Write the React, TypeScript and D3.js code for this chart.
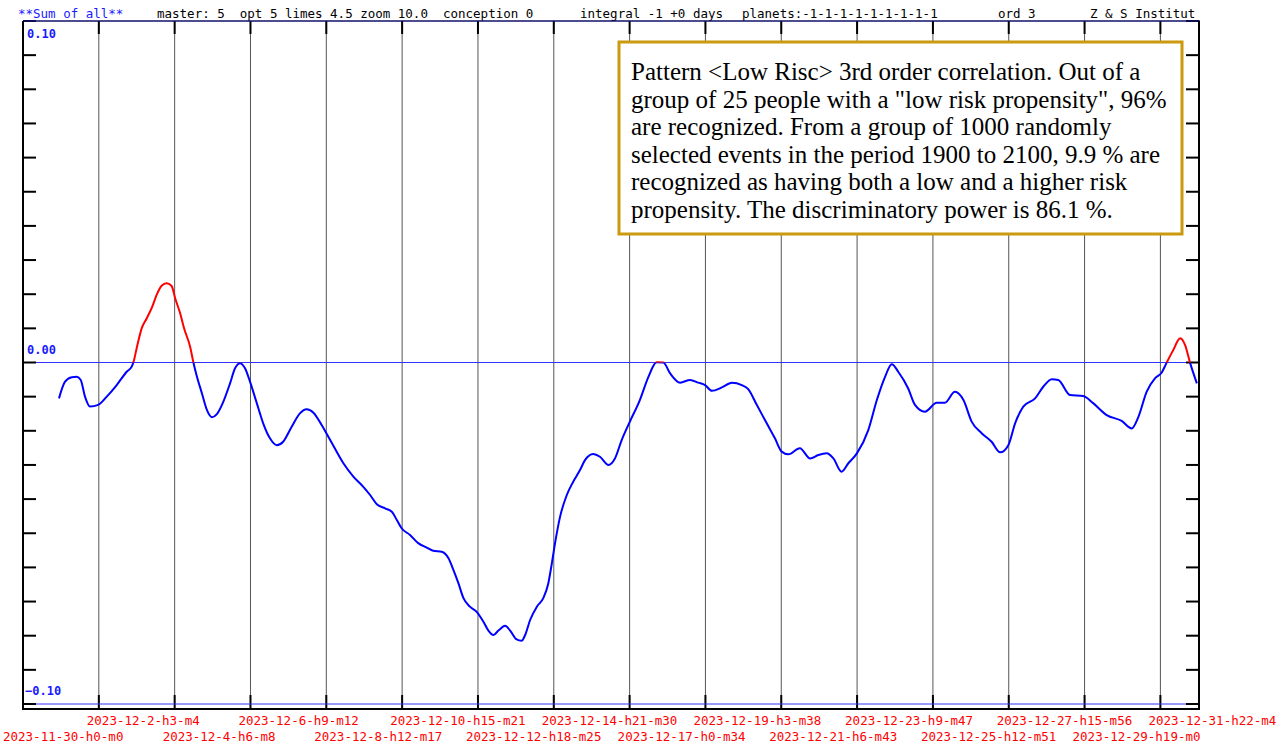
import React, { useEffect, useRef } from 'react';
import * as d3 from 'd3';

const W = 1286;
const H = 745;

// header strings across the top
const headerTexts = [
  '**Sum of all**',
  'master: 5  opt 5 limes 4.5 zoom 10.0  conception 0',
  'integral -1 +0 days',
  'planets:-1-1-1-1-1-1-1-1-1',
  'ord 3',
  'Z & S Institut',
];
const headerColors = ['#1a1aff', '#000', '#000', '#000', '#000', '#000'];
const headerX = [18, 157, 580, 742, 998, 1090];

// x tick labels, one every 2d 3h 4m starting 2023-11-30 00:00
const tickLabels = [
  '2023-11-30-h0-m0', '2023-12-2-h3-m4', '2023-12-4-h6-m8', '2023-12-6-h9-m12',
  '2023-12-8-h12-m17', '2023-12-10-h15-m21', '2023-12-12-h18-m25', '2023-12-14-h21-m30',
  '2023-12-17-h0-m34', '2023-12-19-h3-m38', '2023-12-21-h6-m43', '2023-12-23-h9-m47',
  '2023-12-25-h12-m51', '2023-12-27-h15-m56', '2023-12-29-h19-m0', '2023-12-31-h22-m4',
];
const tickStepDays = 3064 / 1440;
const dayDomain = [0, 33];

const yTickValues = d3.range(-10, 11).map(i => i / 100);
const yLabelValues = [0.1, 0, -0.1];

// days since 2023-11-30 00:00
const curveDays = [
  1.01, 1.18, 1.37, 1.51, 1.62, 1.74, 1.88, 2.11, 2.35, 2.63,
  2.91, 3.05, 3.10, 3.19, 3.33, 3.47, 3.61, 3.75, 3.89, 4.03,
  4.17, 4.27, 4.41, 4.52, 4.69, 4.78, 4.87, 5.02, 5.16, 5.30,
  5.44, 5.62, 5.81, 5.95, 6.09, 6.23, 6.37, 6.56, 6.74, 6.93,
  7.12, 7.30, 7.54, 7.77, 7.96, 8.15, 8.38, 8.62, 8.99, 9.27,
  9.55, 9.74, 9.93, 10.16, 10.35, 10.49, 10.63, 10.86, 11.09, 11.33,
  11.51, 11.75, 11.94, 12.08, 12.22, 12.36, 12.54, 12.73, 12.92, 13.06,
  13.20, 13.34, 13.53, 13.67, 13.85, 13.99, 14.09, 14.23, 14.42, 14.60,
  14.74, 14.84, 14.93, 15.07, 15.26, 15.44, 15.63, 15.77, 16.00, 16.19,
  16.43, 16.61, 16.80, 17.03, 17.31, 17.55, 17.78, 17.97, 18.16, 18.44,
  18.72, 18.95, 19.14, 19.33, 19.61, 19.89, 20.17, 20.35, 20.59, 20.87,
  21.10, 21.29, 21.48, 21.80, 22.09, 22.32, 22.55, 22.74, 22.97, 23.16,
  23.40, 23.72, 23.96, 24.19, 24.38, 24.56, 24.84, 25.03, 25.31, 25.64,
  25.87, 26.15, 26.39, 26.62, 26.90, 27.18, 27.42, 27.65, 27.84, 28.07,
  28.40, 28.63, 28.87, 29.05, 29.38, 29.75, 30.03, 30.41, 30.83, 31.11,
  31.30, 31.53, 31.77, 31.95, 32.09, 32.28, 32.47, 32.61, 32.75, 32.94,
];
const curveValues = [
  -0.0105, -0.0056, -0.0043, -0.0042, -0.0051, -0.0100, -0.0129, -0.0124, -0.0100, -0.0066,
  -0.0027, -0.0012, 0.0001, 0.0042, 0.0100, 0.0129, 0.0159, 0.0198, 0.0225, 0.0232,
  0.0224, 0.0188, 0.0144, 0.0100, 0.0046, 0.0001, -0.0037, -0.0090, -0.0139, -0.0160,
  -0.0151, -0.0115, -0.0061, -0.0017, -0.0002, -0.0017, -0.0056, -0.0119, -0.0178, -0.0222,
  -0.0242, -0.0232, -0.0188, -0.0149, -0.0137, -0.0147, -0.0183, -0.0227, -0.0295, -0.0334,
  -0.0364, -0.0388, -0.0415, -0.0427, -0.0437, -0.0461, -0.0486, -0.0505, -0.0529, -0.0542,
  -0.0551, -0.0554, -0.0573, -0.0608, -0.0647, -0.0690, -0.0715, -0.0730, -0.0759, -0.0785,
  -0.0798, -0.0785, -0.0771, -0.0785, -0.0811, -0.0815, -0.0798, -0.0754, -0.0715, -0.0690,
  -0.0647, -0.0588, -0.0529, -0.0452, -0.0388, -0.0349, -0.0315, -0.0286, -0.0268, -0.0276,
  -0.0300, -0.0281, -0.0227, -0.0173, -0.0110, -0.0042, 0.0001, 0.0000, -0.0032, -0.0059,
  -0.0051, -0.0059, -0.0066, -0.0083, -0.0073, -0.0059, -0.0066, -0.0078, -0.0124, -0.0178,
  -0.0222, -0.0261, -0.0269, -0.0251, -0.0281, -0.0271, -0.0266, -0.0281, -0.0320, -0.0295,
  -0.0266, -0.0198, -0.0110, -0.0042, -0.0005, -0.0027, -0.0076, -0.0124, -0.0144, -0.0118,
  -0.0118, -0.0086, -0.0110, -0.0173, -0.0207, -0.0232, -0.0263, -0.0242, -0.0178, -0.0129,
  -0.0105, -0.0071, -0.0049, -0.0051, -0.0095, -0.0098, -0.0119, -0.0154, -0.0171, -0.0193,
  -0.0159, -0.0086, -0.0046, -0.0030, -0.0001, 0.0037, 0.0071, 0.0051, -0.0001, -0.0061,
];

const noteLines = [
  'Pattern <Low Risc> 3rd order correlation. Out of a',
  'group of 25 people with a "low risk propensity", 96%',
  'are recognized. From a group of 1000 randomly',
  'selected events in the period 1900 to 2100, 9.9 % are',
  'recognized as having both a low and a higher risk',
  'propensity. The discriminatory power is 86.1 %.',
];

const mono = '"DejaVu Sans Mono", monospace';

export default function App() {
  const ref = useRef<SVGSVGElement | null>(null);

  useEffect(() => {
    const svg = d3.select(ref.current);
    svg.selectAll('*').remove();

    const left = 23, right = 1199, top = 21, zeroBottom = 704, frameBottom = 709;

    const x = d3.scaleLinear().domain(dayDomain).range([left, right]);
    const y = d3.scaleLinear().domain([-0.1, 0.1]).range([zeroBottom, top]);

    svg.append('rect').attr('width', W).attr('height', H).attr('fill', '#fff');

    // header
    svg.append('g').selectAll('text')
      .data(headerTexts)
      .enter()
      .append('text')
      .attr('x', (d, i) => headerX[i])
      .attr('y', 18)
      .attr('fill', (d, i) => headerColors[i])
      .style('font-family', mono)
      .style('font-size', '12.5px')
      .style('white-space', 'pre')
      .text(d => d);

    const tickDays = tickLabels.map((d, i) => i * tickStepDays);

    // vertical grid lines
    svg.append('g').selectAll('line')
      .data(tickDays.slice(1))
      .enter()
      .append('line')
      .attr('x1', d => x(d)).attr('x2', d => x(d))
      .attr('y1', top).attr('y2', frameBottom)
      .attr('stroke', '#555').attr('stroke-width', 1);

    // short dark ticks at top and bottom of grid lines
    const gt = svg.append('g');
    tickDays.slice(1).forEach(d => {
      gt.append('line').attr('x1', x(d)).attr('x2', x(d)).attr('y1', top).attr('y2', top + 13)
        .attr('stroke', '#000').attr('stroke-width', 2);
      gt.append('line').attr('x1', x(d)).attr('x2', x(d)).attr('y1', frameBottom - 14).attr('y2', frameBottom)
        .attr('stroke', '#000').attr('stroke-width', 2);
    });

    // horizontal reference lines
    svg.append('line').attr('x1', left).attr('x2', right).attr('y1', y(0)).attr('y2', y(0))
      .attr('stroke', '#3333ff').attr('stroke-width', 1);
    svg.append('line').attr('x1', left).attr('x2', right).attr('y1', y(-0.1)).attr('y2', y(-0.1))
      .attr('stroke', '#3333ff').attr('stroke-width', 1);

    // y ticks, both sides
    svg.append('g').selectAll('line')
      .data(yTickValues)
      .enter()
      .append('line')
      .attr('x1', left).attr('x2', left + 13)
      .attr('y1', d => y(d)).attr('y2', d => y(d))
      .attr('stroke', '#000').attr('stroke-width', 2);
    svg.append('g').selectAll('line')
      .data(yTickValues)
      .enter()
      .append('line')
      .attr('x1', right - 13).attr('x2', right)
      .attr('y1', d => y(d)).attr('y2', d => y(d))
      .attr('stroke', '#000').attr('stroke-width', 2);

    // frame
    svg.append('line').attr('x1', left).attr('x2', right + 1).attr('y1', top).attr('y2', top)
      .attr('stroke', '#10106a').attr('stroke-width', 1.5);
    svg.append('line').attr('x1', left).attr('x2', left).attr('y1', top).attr('y2', frameBottom + 1)
      .attr('stroke', '#000').attr('stroke-width', 2);
    svg.append('line').attr('x1', right).attr('x2', right).attr('y1', top).attr('y2', frameBottom + 1)
      .attr('stroke', '#000').attr('stroke-width', 2);
    svg.append('line').attr('x1', left).attr('x2', right + 1).attr('y1', frameBottom).attr('y2', frameBottom)
      .attr('stroke', '#000').attr('stroke-width', 2);

    // y labels
    svg.append('g').selectAll('text')
      .data(yLabelValues)
      .enter()
      .append('text')
      .attr('x', d => (d < 0 ? left + 2 : left + 4))
      .attr('y', d => (d > 0 ? y(d) + 17 : y(d) - 9))
      .attr('fill', '#1a1aff')
      .style('font-family', mono)
      .style('font-size', '12px')
      .style('font-weight', 'bold')
      .text(d => d3.format('.2f')(d));

    // x labels, alternating rows
    svg.append('g').selectAll('text')
      .data(tickLabels)
      .enter()
      .append('text')
      .attr('x', (d, i) => (i === 0 ? x(tickDays[i]) - 20 : x(tickDays[i]) - 12))
      .attr('y', (d, i) => (i % 2 === 1 ? 725 : 741))
      .attr('fill', '#ff0000')
      .style('font-family', mono)
      .style('font-size', '12.5px')
      .text(d => d);

    // curve: red above zero, blue below
    const pts: [number, number][] = curveDays.map((d, i) => [d, curveValues[i]]);
    const line = d3.line<[number, number]>()
      .x(d => x(d[0]))
      .y(d => y(d[1]))
      .curve(d3.curveMonotoneX);

    const defs = svg.append('defs');
    defs.append('clipPath').attr('id', 'above')
      .append('rect').attr('x', 0).attr('y', 0).attr('width', W).attr('height', y(0));
    defs.append('clipPath').attr('id', 'below')
      .append('rect').attr('x', 0).attr('y', y(0)).attr('width', W).attr('height', H - y(0));

    svg.append('path')
      .datum(pts)
      .attr('fill', 'none')
      .attr('stroke', '#0000ff')
      .attr('stroke-width', 2)
      .attr('clip-path', 'url(#below)')
      .attr('d', line);
    svg.append('path')
      .datum(pts)
      .attr('fill', 'none')
      .attr('stroke', '#ff0000')
      .attr('stroke-width', 2)
      .attr('clip-path', 'url(#above)')
      .attr('d', line);

    // annotation box
    const bx = 619, by = 42, bw = 563, bh = 192;
    svg.append('rect')
      .attr('x', bx).attr('y', by).attr('width', bw).attr('height', bh)
      .attr('fill', '#fff').attr('stroke', '#cc9a0e').attr('stroke-width', 3);
    svg.append('g').selectAll('text')
      .data(noteLines)
      .enter()
      .append('text')
      .attr('x', bx + 12)
      .attr('y', (d, i) => by + 38 + i * 27.5)
      .attr('fill', '#000')
      .style('font-family', '"Liberation Serif", "Times New Roman", serif')
      .style('font-size', '25px')
      .text(d => d);
  }, []);

  return (
    <div>
      <style>{'body{margin:0}'}</style>
      <svg ref={ref} width={W} height={H} style={{ display: 'block' }} />
    </div>
  );
}
